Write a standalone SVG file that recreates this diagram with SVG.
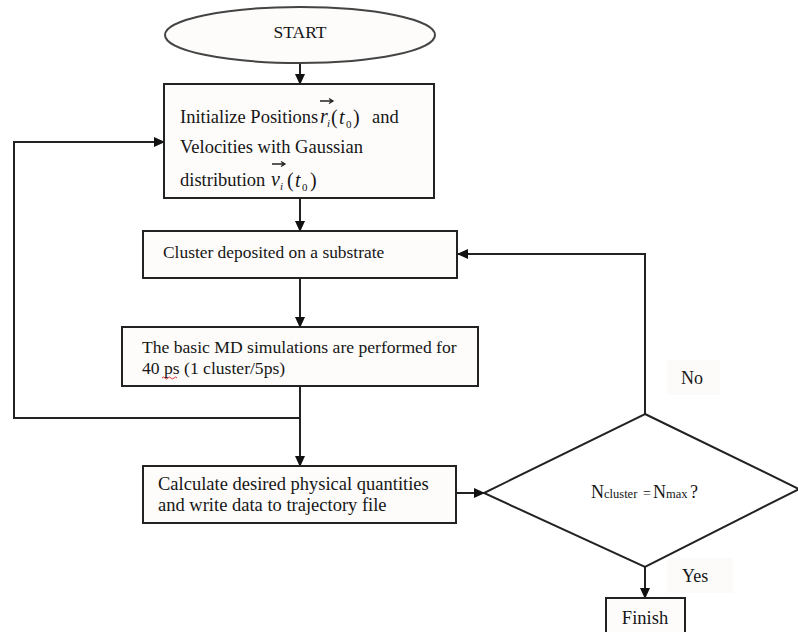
<svg xmlns="http://www.w3.org/2000/svg" width="798" height="632" viewBox="0 0 798 632">
<defs>
<style>
.bx{fill:#fdfcfb;stroke:#222;stroke-width:2}
.ln{fill:none;stroke:#222;stroke-width:2}
.t{font-family:"Liberation Serif","Times New Roman",serif;fill:#161616}
.lbl{fill:#fcfbfa;stroke:none}
</style>
<marker id="ah" markerWidth="11" markerHeight="10" refX="10" refY="5" orient="auto" markerUnits="userSpaceOnUse">
<path d="M0,0 L11,5 L0,10 Z" fill="#111"/>
</marker>
</defs>
<rect width="798" height="632" fill="#ffffff"/>

<g id="connectors">
<line class="ln" x1="300" y1="63" x2="300" y2="84" marker-end="url(#ah)"/>
<line class="ln" x1="300" y1="198" x2="300" y2="231" marker-end="url(#ah)"/>
<line class="ln" x1="300" y1="278" x2="300" y2="327" marker-end="url(#ah)"/>
<line class="ln" x1="300" y1="386" x2="300" y2="466" marker-end="url(#ah)"/>
<polyline class="ln" points="300,418 14,418 14,142 164,142" marker-end="url(#ah)"/>
<line class="ln" x1="456" y1="493" x2="484" y2="493" marker-end="url(#ah)"/>
<polyline class="ln" points="645,414 645,254 458,254" marker-end="url(#ah)"/>
<line class="ln" x1="645" y1="567" x2="645" y2="598" marker-end="url(#ah)"/>
<rect class="lbl" x="667" y="360" width="53" height="35"/>
<text class="t" x="681" y="384" font-size="18">No</text>
<rect class="lbl" x="667" y="558" width="66" height="35"/>
<text class="t" x="682" y="582" font-size="18">Yes</text>
</g>

<g id="start">
<ellipse cx="300" cy="35" rx="135" ry="28" fill="#fdfcfb" stroke="#444" stroke-width="2"/>
<text class="t" x="300" y="38" font-size="17.5" text-anchor="middle">START</text>
</g>

<g id="init">
<rect class="bx" x="164" y="84" width="270" height="114"/>
<text class="t" font-size="18.5"><tspan x="180" y="123">Initialize Positions</tspan><tspan x="320" y="123" font-style="italic" font-size="20">r</tspan><tspan x="327" y="127" font-style="italic" font-size="11">i</tspan><tspan x="331" y="124" font-size="20">(</tspan><tspan x="339" y="124" font-style="italic" font-size="20">t</tspan><tspan x="346" y="128" font-size="11">0</tspan><tspan x="353" y="124" font-size="20">)</tspan><tspan x="372" y="123">and</tspan></text>
<text class="t" font-size="18.5" x="180" y="153">Velocities with Gaussian</text>
<text class="t" font-size="18.5"><tspan x="180" y="186">distribution</tspan><tspan x="271" y="186" font-style="italic" font-size="20">v</tspan><tspan x="280" y="190" font-style="italic" font-size="11">i</tspan><tspan x="287" y="187" font-size="20">(</tspan><tspan x="295" y="187" font-style="italic" font-size="20">t</tspan><tspan x="302" y="191" font-size="11">0</tspan><tspan x="310" y="187" font-size="20">)</tspan></text>
<path d="M320,101 H332 M329,98.5 L333,101 L329,103.5" fill="none" stroke="#222" stroke-width="1.3"/>
<path d="M272,164 H284 M281,161.5 L285,164 L281,166.5" fill="none" stroke="#222" stroke-width="1.3"/>
</g>

<g id="deposit">
<rect class="bx" x="143" y="231" width="314" height="47"/>
<text class="t" x="163" y="258" font-size="17.4">Cluster deposited on a substrate</text>
</g>

<g id="md">
<rect class="bx" x="122" y="327" width="356" height="59"/>
<text class="t" x="142" y="353" font-size="17.6">The basic MD simulations are performed for</text>
<text class="t" x="142" y="374" font-size="17.6">40 ps (1 cluster/5ps)</text>
<path d="M162,378 q1.5,-2 3,0 t3,0 t3,0 t3,0 t3,0" fill="none" stroke="#d33" stroke-width="1"/>
</g>

<g id="calc">
<rect class="bx" x="143" y="466" width="313" height="57"/>
<text class="t" x="158" y="490" font-size="18.5">Calculate desired physical quantities</text>
<text class="t" x="158" y="511" font-size="18.5">and write data to trajectory file</text>
</g>

<g id="decision">
<polygon points="645,414 799,489 645,567 484,493" fill="#ffffff" stroke="#222" stroke-width="2"/>
<text class="t" y="498"><tspan x="591" font-size="18">N</tspan><tspan x="604" font-size="12.5">cluster</tspan><tspan x="643" font-size="14">=</tspan><tspan x="653" font-size="18">N</tspan><tspan x="666" font-size="12.5">max</tspan><tspan x="690" font-size="18">?</tspan></text>
</g>

<g id="finish">
<rect class="bx" x="606" y="598" width="79" height="44"/>
<text class="t" x="645" y="624" font-size="18.5" text-anchor="middle">Finish</text>
</g>
</svg>
